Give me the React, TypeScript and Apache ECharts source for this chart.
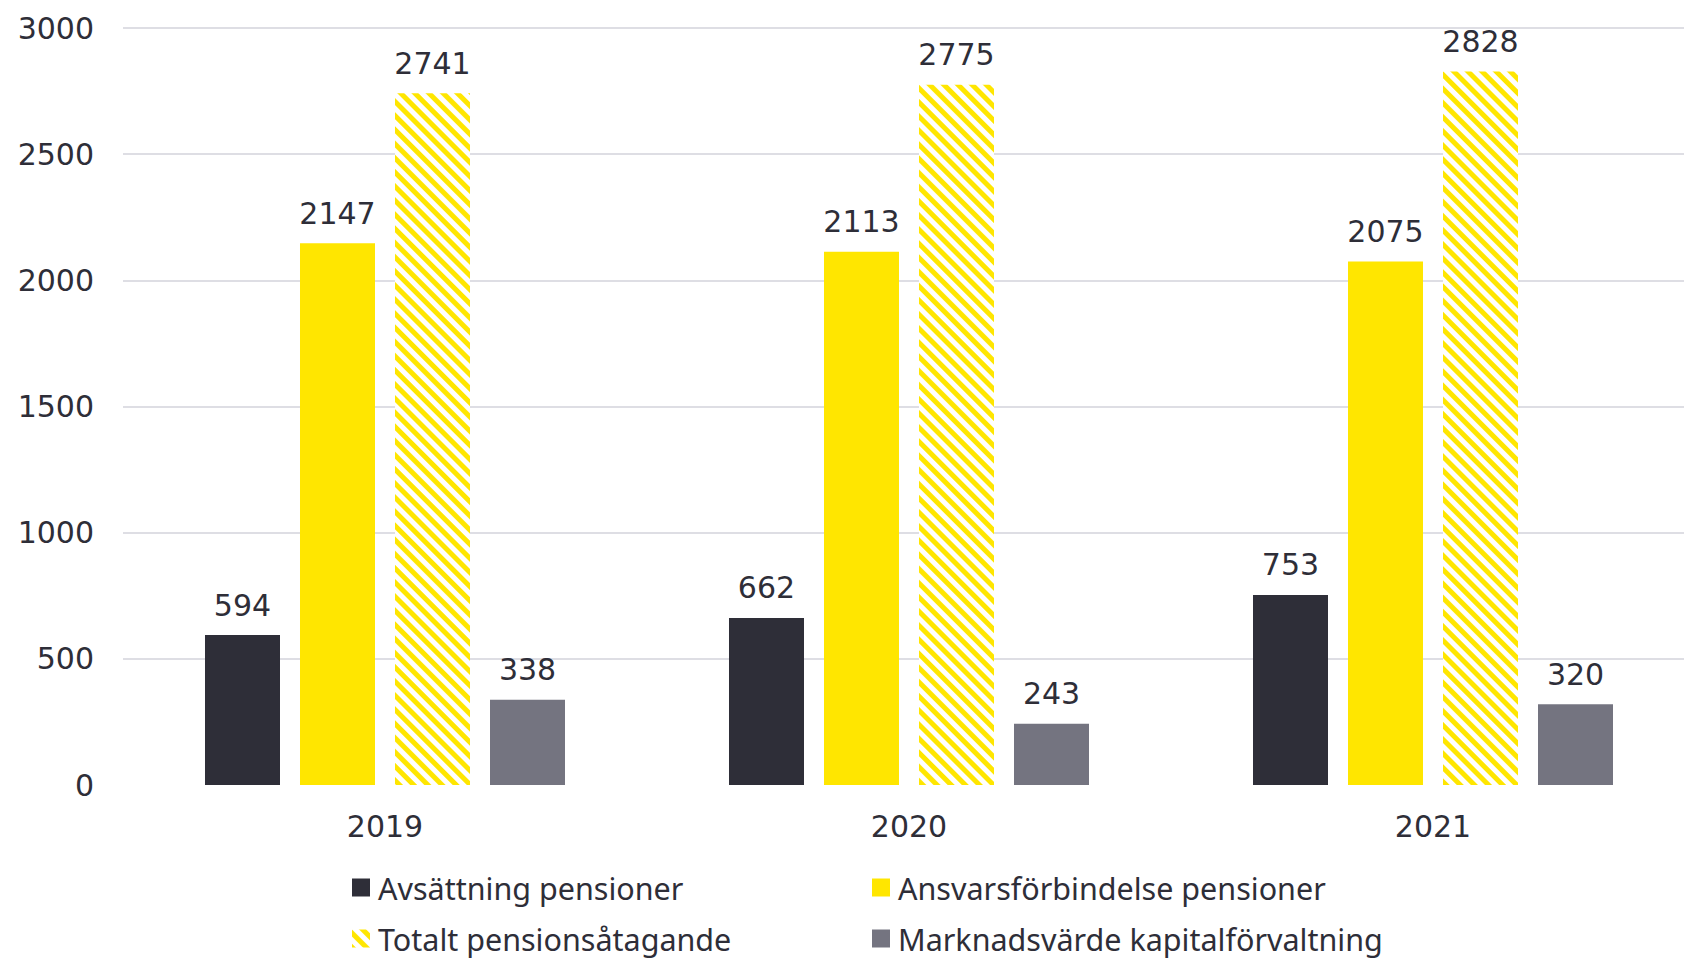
import React, { useEffect, useRef } from "react";
import * as echarts from "echarts";

const categories = ["2019", "2020", "2021"];
const avsattning = [594, 662, 753];
const ansvars = [2147, 2113, 2075];
const totalt = [2741, 2775, 2828];
const marknad = [338, 243, 320];
const seriesNames = [
  "Avsättning pensioner",
  "Ansvarsförbindelse pensioner",
  "Totalt pensionsåtagande",
  "Marknadsvärde kapitalförvaltning",
];

const TEXT = "#2e2e38";
const FONT = "Noto Sans";
const NUMFONT = "DejaVu Sans";
const FS = 30.5;
const NFS = 30;

export default function App() {
  const ref = useRef<HTMLDivElement>(null);
  useEffect(() => {
    if (!ref.current) return;
    const chart = echarts.init(ref.current, undefined, { renderer: "svg" });
    const label = {
      show: true,
      position: "top" as const,
      distance: 15,
      color: TEXT,
      fontFamily: NUMFONT,
      fontSize: NFS,
    };
    const legendBase = {
      itemWidth: 18,
      itemHeight: 18,
      padding: 0,
      icon: "rect",
      textStyle: { color: TEXT, fontFamily: FONT, fontSize: FS, lineHeight: 30, padding: [0, 0, 0, 3] },
    };
    chart.setOption({
      animation: false,
      backgroundColor: "#ffffff",
      textStyle: { fontFamily: FONT },
      grid: { left: 123, top: 28, width: 1572, height: 757, containLabel: false },
      legend: [
        { ...legendBase, data: [seriesNames[0]], left: 352, top: 872 },
        { ...legendBase, data: [seriesNames[1]], left: 872, top: 872 },
        { ...legendBase, data: [seriesNames[2]], left: 352, top: 923 },
        { ...legendBase, data: [seriesNames[3]], left: 872, top: 923 },
      ],
      xAxis: {
        type: "category",
        data: categories,
        axisLine: { show: false },
        axisTick: { show: false },
        axisLabel: { color: TEXT, fontFamily: NUMFONT, fontSize: NFS, margin: 26 },
      },
      yAxis: {
        type: "value",
        min: 0,
        max: 3000,
        interval: 500,
        axisLine: { show: false },
        axisTick: { show: false },
        axisLabel: {
          color: TEXT,
          fontFamily: NUMFONT,
          fontSize: NFS,
          margin: 29,
          formatter: (v: number) => String(v),
        },
        splitLine: { showMinLine: false, lineStyle: { color: "#d3d3db", width: 1.5 } },
      },
      series: [
        {
          name: seriesNames[0],
          type: "bar",
          data: avsattning,
          barWidth: 75,
          barGap: "26.67%",
          itemStyle: { color: "#2e2e38" },
          label,
        },
        {
          name: seriesNames[1],
          type: "bar",
          data: ansvars,
          barWidth: 75,
          barGap: "26.67%",
          itemStyle: { color: "#ffe600" },
          label,
        },
        {
          name: seriesNames[2],
          type: "bar",
          data: totalt,
          barWidth: 75,
          barGap: "26.67%",
          itemStyle: {
            color: "#ffffff",
            decal: {
              symbol: "rect",
              symbolSize: 1,
              color: "#ffe600",
              dashArrayX: [1, 0],
              dashArrayY: [5, 5],
              rotation: Math.PI / 4,
            },
          },
          label,
        },
        {
          name: seriesNames[3],
          type: "bar",
          data: marknad,
          barWidth: 75,
          barGap: "26.67%",
          itemStyle: { color: "#747480" },
          label,
        },
      ],
    });
    return () => chart.dispose();
  }, []);
  return (
    <div
      ref={ref}
      style={{ position: "fixed", left: 0, top: 0, width: 1700, height: 959 }}
    />
  );
}
